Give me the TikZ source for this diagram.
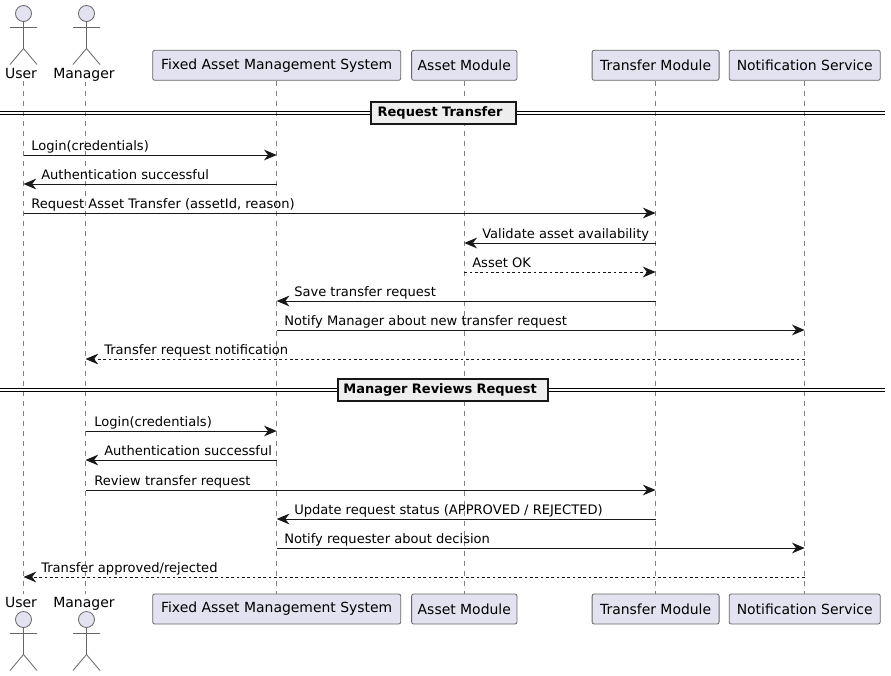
\documentclass[tikz,border=0pt]{standalone}
\usepackage{fontspec}
\setmainfont{DejaVu Sans}
\usetikzlibrary{arrows.meta,calc}
\definecolor{pfill}{HTML}{E2E2F0}
\definecolor{pline}{HTML}{666666}
\definecolor{lifegray}{HTML}{808080}
\definecolor{ink}{HTML}{181818}
\definecolor{divfill}{HTML}{EEEEEE}
\tikzset{
  x=0.75pt,y=-0.75pt,
  box/.style={draw=pline,fill=pfill,rounded corners=1.5pt,line width=0.6pt,minimum height=22.5pt,inner sep=0pt,text=black,font=\fontsize{10.45}{12}\selectfont},
  lifeline/.style={draw=lifegray,line width=0.5pt,dash pattern=on 3.75pt off 3.75pt},
  msg/.style={draw=ink,line width=0.75pt,-{Stealth[length=9.5pt,width=8pt,inset=3pt]}},
  reply/.style={msg,dash pattern=on 2pt off 2pt},
  msglabel/.style={anchor=base west,inner sep=0pt,text=black,font=\fontsize{9.8}{12}\selectfont},
  actorname/.style={inner sep=0pt,anchor=base,text=black,font=\fontsize{10.5}{12}\selectfont},
  divbox/.style={draw=ink,fill=divfill,line width=1.5pt,inner sep=0pt,text=black,font=\bfseries\fontsize{9.75}{12}\selectfont},
  divline/.style={draw=black,line width=0.75pt},
  stick/.style={draw=pline,line width=0.6pt,fill=pfill}
}
\newcommand{\actorfig}[2]{%
  \draw[stick] (#1,#2) circle (6pt);
  \draw[stick,fill=none] (#1,#2+8) -- (#1,#2+35) (#1-13.5,#2+14) -- (#1+13.5,#2+14)
    (#1-13.5,#2+51) -- (#1,#2+35) -- (#1+13.5,#2+51);}
\begin{document}
\begin{tikzpicture}
\useasboundingbox[fill=white] (0,0) rectangle (891,675);
% lifelines
\coordinate (ut) at (23.5,81); \coordinate (ub) at (23.5,594);
\coordinate (mt) at (85.5,81); \coordinate (mb) at (85.5,594);
\draw[lifeline] (ut) -- (ub);
\draw[lifeline] (mt) -- (mb);
\node[box,minimum width=186pt] (ft) at (276.7,65.3) {Fixed Asset Management System};
\node[box,minimum width=79pt] (at) at (464.3,65.3) {Asset Module};
\node[box,minimum width=95.25pt] (tt) at (655.6,65.3) {Transfer Module};
\node[box,minimum width=113.25pt] (nt) at (804.7,65.3) {Notification Service};
\node[box,minimum width=186pt] (fb) at (276.7,609) {Fixed Asset Management System};
\node[box,minimum width=79pt] (ab) at (464.3,609) {Asset Module};
\node[box,minimum width=95.25pt] (tb) at (655.6,609) {Transfer Module};
\node[box,minimum width=113.25pt] (nb) at (804.7,609) {Notification Service};
\draw[lifeline] (ft) -- (fb);
\draw[lifeline] (at) -- (ab);
\draw[lifeline] (tt) -- (tb);
\draw[lifeline] (nt) -- (nb);
% actors
\actorfig{23.5}{13.5}
\actorfig{86.5}{13.5}
\actorfig{23.5}{619.5}
\actorfig{86.5}{619.5}
\node[actorname,fill=white,inner ysep=1pt] (un1) at (21,78) {User};
\node[actorname,fill=white,inner ysep=1pt] (mn1) at (84,78) {Manager};
\node[actorname] (un2) at (21,607) {User};
\node[actorname] (mn2) at (84,607) {Manager};
% dividers
\draw[divline] (0,111) -- (885,111) (0,114) -- (885,114);
\node[divbox,minimum width=108.5pt,minimum height=16.5pt,text width=98.5pt,align=left] (d1) at (443.3,112.7) {Request Transfer};
\draw[divline] (0,388) -- (885,388) (0,391) -- (885,391);
\node[divbox,minimum width=158pt,minimum height=16.5pt,text width=149.5pt,align=left] (d2) at (443,389.5) {Manager Reviews Request};
% messages
\newcommand{\msg}[6][msg]{%
  \draw[#1] (#2 |- 0,#4) -- (#3 |- 0,#4);
  \node[msglabel] at (#5,#4-4.3) {#6};}
\msg{ut}{ft}{155}{31}{Login(credentials)}
\msg{ft}{ut}{184}{41}{Authentication successful}
\msg{ut}{tt}{213}{31}{Request Asset Transfer (assetId, reason)}
\msg{tt}{at}{243}{482}{Validate asset availability}
\msg[reply]{at}{tt}{272}{472}{Asset OK}
\msg{tt}{ft}{301}{294}{Save transfer request}
\msg{ft}{nt}{330}{284}{Notify Manager about new transfer request}
\msg[reply]{nt}{mt}{359}{104}{Transfer request notification}
\msg{mt}{ft}{431}{94}{Login(credentials)}
\msg{ft}{mt}{460}{104}{Authentication successful}
\msg{mt}{tt}{490}{94}{Review transfer request}
\msg{tt}{ft}{519}{294}{Update request status (APPROVED / REJECTED)}
\msg{ft}{nt}{548}{284}{Notify requester about decision}
\msg[reply]{nt}{ut}{577}{41}{Transfer approved/rejected}
\end{tikzpicture}
\end{document}
